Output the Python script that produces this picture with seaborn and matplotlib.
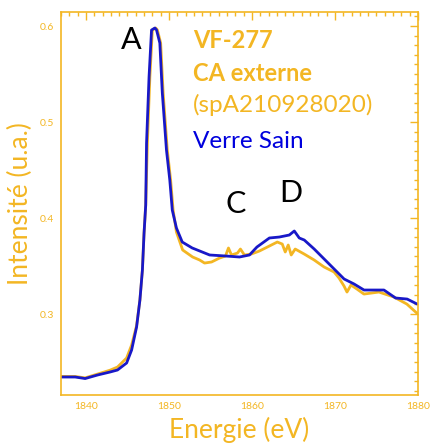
import numpy as np
import pandas as pd
import matplotlib
matplotlib.use("Agg")
import matplotlib.pyplot as plt
from matplotlib.ticker import MultipleLocator
import seaborn as sns

# Spectre "Verre Sain" (bleu)
energie_sain = [1837.0, 1838.7, 1839.9, 1841.4, 1842.9, 1843.8, 1844.9, 1845.5, 1846.1,
                1846.5, 1846.8, 1847.0, 1847.2, 1847.3, 1847.6, 1847.9, 1848.3, 1848.5,
                1848.9, 1849.2, 1849.7, 1850.1, 1850.4, 1850.9, 1851.6, 1852.8, 1854.9,
                1856.9, 1858.5, 1859.7, 1860.6, 1862.1, 1863.3, 1864.5, 1865.1, 1865.7,
                1866.3, 1867.5, 1868.7, 1869.9, 1871.1, 1872.3, 1873.5, 1875.9, 1877.3,
                1878.7, 1879.9]
intens_sain = [0.2344, 0.2344, 0.2328, 0.2365, 0.2396, 0.2417, 0.2490, 0.2625, 0.2865,
               0.3146, 0.3458, 0.3844, 0.4135, 0.4781, 0.5469, 0.5958, 0.5979, 0.5960,
               0.5823, 0.5302, 0.4708, 0.4396, 0.4083, 0.3896, 0.3750, 0.3688, 0.3615,
               0.3604, 0.3594, 0.3615, 0.3698, 0.3792, 0.3802, 0.3823, 0.3865, 0.3792,
               0.3771, 0.3677, 0.3573, 0.3469, 0.3365, 0.3313, 0.3250, 0.3250, 0.3167,
               0.3156, 0.3104]

# Spectre "VF-277 CA externe" (orange)
energie_vf = [1837.0, 1838.7, 1839.9, 1841.4, 1842.9, 1843.8, 1844.9, 1845.5, 1846.1,
              1846.5, 1846.8, 1847.0, 1847.2, 1847.4, 1847.7, 1848.0, 1848.4, 1848.6,
              1849.0, 1849.3, 1849.8, 1850.2, 1850.5, 1850.9, 1851.65, 1852.85, 1853.69,
              1854.29, 1855.13, 1856.09, 1856.81, 1857.17, 1857.53, 1858.25, 1858.61,
              1859.09, 1859.93, 1860.89, 1862.09, 1863.05, 1863.65, 1864.01, 1864.37,
              1864.73, 1865.21, 1866.29, 1867.49, 1868.69, 1869.89, 1870.49, 1871.09,
              1871.45, 1871.93, 1872.65, 1873.49, 1875.30, 1877.10, 1878.66, 1879.86]
intens_vf = [0.2350, 0.2350, 0.2335, 0.2375, 0.2415, 0.2448, 0.2542, 0.2677, 0.2880,
             0.3146, 0.3458, 0.3844, 0.4135, 0.4781, 0.5469, 0.5958, 0.5979, 0.5960,
             0.5823, 0.5302, 0.4708, 0.4396, 0.4083, 0.3854, 0.3667, 0.3594, 0.3563,
             0.3531, 0.3542, 0.3583, 0.3604, 0.3688, 0.3615, 0.3635, 0.3677,
             0.3615, 0.3625, 0.3656, 0.3708, 0.3750, 0.3729, 0.3646, 0.3719,
             0.3615, 0.3677, 0.3625, 0.3563, 0.3490, 0.3438, 0.3375, 0.3292,
             0.3229, 0.3302, 0.3260, 0.3208, 0.3229, 0.3177, 0.3104, 0.3010]

ORANGE = "#F3B623"
BLEU = "#1818C8"

sns.set_style("white")
plt.rcParams['font.family'] = ['Lato', 'DejaVu Sans']

df = pd.concat([
    pd.DataFrame({"energie": energie_vf, "intensite": intens_vf, "serie": "VF-277"}),
    pd.DataFrame({"energie": energie_sain, "intensite": intens_sain, "serie": "Verre Sain"}),
], ignore_index=True)

fig = plt.figure(figsize=(4.30, 4.44), dpi=100)
ax = fig.add_axes([0.142, 0.110, 0.830, 0.863])

sns.lineplot(data=df, x="energie", y="intensite", hue="serie",
             palette={"VF-277": ORANGE, "Verre Sain": BLEU},
             estimator=None, sort=False, linewidth=2.0, legend=False, ax=ax)

ax.set_xlim(1837, 1880)
ax.set_ylim(0.2155, 0.6146)

ax.xaxis.set_major_locator(MultipleLocator(10))
ax.xaxis.set_minor_locator(MultipleLocator(1))
ax.yaxis.set_major_locator(MultipleLocator(0.1))
ax.yaxis.set_minor_locator(MultipleLocator(0.01))
ax.tick_params(which="both", direction="in", top=True, right=True,
               colors=ORANGE, labelsize=7.5, width=1)
ax.tick_params(which="major", length=6, pad=5)
ax.tick_params(which="minor", length=3)
for sp in ax.spines.values():
    sp.set_color(ORANGE)
    sp.set_linewidth(1.2)

ax.set_xlabel("Energie (eV)", color=ORANGE, fontsize=19, labelpad=4)
ax.set_ylabel("Intensité (u.a.)", color=ORANGE, fontsize=19, labelpad=5)

# Pics
ax.text(1845.4, 0.585, "A", fontsize=22, ha="center", va="center", color="black")
ax.text(1858.0, 0.4146, "C", fontsize=22, ha="center", va="center", color="black")
ax.text(1864.7, 0.426, "D", fontsize=22, ha="center", va="center", color="black")

# Légende en texte
ax.text(1852.9, 0.585, "VF-277", fontsize=17, fontweight="bold", color=ORANGE, va="center")
ax.text(1852.9, 0.551, "CA externe", fontsize=17, fontweight="bold", color=ORANGE, va="center")
ax.text(1852.9, 0.518, "(spA210928020)", fontsize=17.5, color=ORANGE, va="center")
ax.text(1852.9, 0.480, "Verre Sain", fontsize=17.5, color="#0000DD", va="center")

fig.savefig("out.png", dpi=100)
